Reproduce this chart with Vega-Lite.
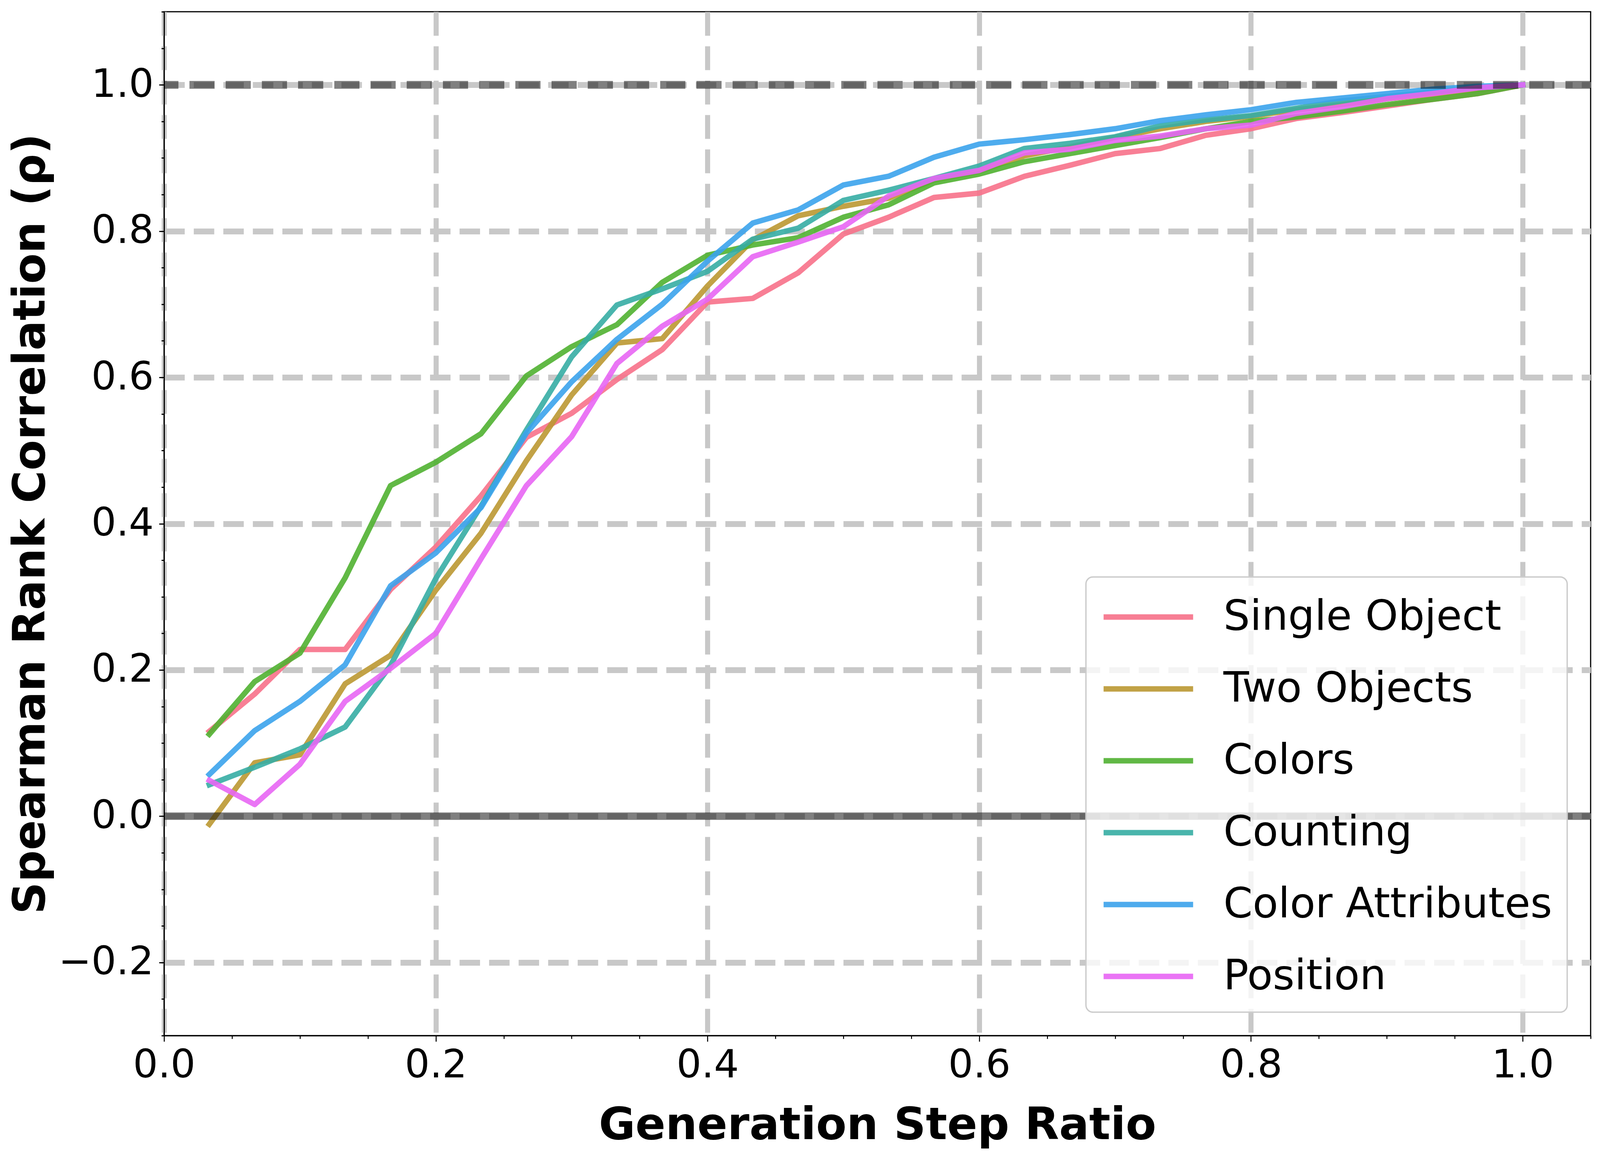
{
  "$schema": "https://vega.github.io/schema/vega-lite/v6.json",
  "background": "white",
  "autosize": {"type": "none"},
  "padding": {"left": 420, "top": 30, "right": 24, "bottom": 321},
  "width": 3652,
  "height": 2621,
  "config": {
    "view": {"stroke": "black", "strokeWidth": 3},
    "font": "DejaVu Sans",
    "legend": {"strokeWidth": 3.5}
  },
  "datasets": {
    "curves": [
      {"task":"Single Object","step":0.0333,"rho":0.116},{"task":"Single Object","step":0.0667,"rho":0.167},{"task":"Single Object","step":0.1,"rho":0.228},{"task":"Single Object","step":0.1333,"rho":0.228},{"task":"Single Object","step":0.1667,"rho":0.31},{"task":"Single Object","step":0.2,"rho":0.368},{"task":"Single Object","step":0.2333,"rho":0.438},{"task":"Single Object","step":0.2667,"rho":0.518},{"task":"Single Object","step":0.3,"rho":0.551},{"task":"Single Object","step":0.3333,"rho":0.597},{"task":"Single Object","step":0.3667,"rho":0.638},{"task":"Single Object","step":0.4,"rho":0.703},{"task":"Single Object","step":0.4333,"rho":0.708},{"task":"Single Object","step":0.4667,"rho":0.743},{"task":"Single Object","step":0.5,"rho":0.796},{"task":"Single Object","step":0.5333,"rho":0.819},{"task":"Single Object","step":0.5667,"rho":0.846},{"task":"Single Object","step":0.6,"rho":0.852},{"task":"Single Object","step":0.6333,"rho":0.875},{"task":"Single Object","step":0.6667,"rho":0.89},{"task":"Single Object","step":0.7,"rho":0.906},{"task":"Single Object","step":0.7333,"rho":0.913},{"task":"Single Object","step":0.7667,"rho":0.931},{"task":"Single Object","step":0.8,"rho":0.94},{"task":"Single Object","step":0.8333,"rho":0.954},{"task":"Single Object","step":0.8667,"rho":0.962},{"task":"Single Object","step":0.9,"rho":0.971},{"task":"Single Object","step":0.9333,"rho":0.98},{"task":"Single Object","step":0.9667,"rho":0.988},{"task":"Single Object","step":1.0,"rho":1.0},
      {"task":"Two Objects","step":0.0333,"rho":-0.011},{"task":"Two Objects","step":0.0667,"rho":0.073},{"task":"Two Objects","step":0.1,"rho":0.084},{"task":"Two Objects","step":0.1333,"rho":0.181},{"task":"Two Objects","step":0.1667,"rho":0.22},{"task":"Two Objects","step":0.2,"rho":0.309},{"task":"Two Objects","step":0.2333,"rho":0.387},{"task":"Two Objects","step":0.2667,"rho":0.486},{"task":"Two Objects","step":0.3,"rho":0.576},{"task":"Two Objects","step":0.3333,"rho":0.647},{"task":"Two Objects","step":0.3667,"rho":0.653},{"task":"Two Objects","step":0.4,"rho":0.725},{"task":"Two Objects","step":0.4333,"rho":0.788},{"task":"Two Objects","step":0.4667,"rho":0.821},{"task":"Two Objects","step":0.5,"rho":0.834},{"task":"Two Objects","step":0.5333,"rho":0.845},{"task":"Two Objects","step":0.5667,"rho":0.87},{"task":"Two Objects","step":0.6,"rho":0.882},{"task":"Two Objects","step":0.6333,"rho":0.903},{"task":"Two Objects","step":0.6667,"rho":0.915},{"task":"Two Objects","step":0.7,"rho":0.928},{"task":"Two Objects","step":0.7333,"rho":0.94},{"task":"Two Objects","step":0.7667,"rho":0.95},{"task":"Two Objects","step":0.8,"rho":0.957},{"task":"Two Objects","step":0.8333,"rho":0.966},{"task":"Two Objects","step":0.8667,"rho":0.973},{"task":"Two Objects","step":0.9,"rho":0.981},{"task":"Two Objects","step":0.9333,"rho":0.987},{"task":"Two Objects","step":0.9667,"rho":0.994},{"task":"Two Objects","step":1.0,"rho":1.0},
      {"task":"Colors","step":0.0333,"rho":0.112},{"task":"Colors","step":0.0667,"rho":0.184},{"task":"Colors","step":0.1,"rho":0.223},{"task":"Colors","step":0.1333,"rho":0.326},{"task":"Colors","step":0.1667,"rho":0.452},{"task":"Colors","step":0.2,"rho":0.484},{"task":"Colors","step":0.2333,"rho":0.523},{"task":"Colors","step":0.2667,"rho":0.602},{"task":"Colors","step":0.3,"rho":0.642},{"task":"Colors","step":0.3333,"rho":0.672},{"task":"Colors","step":0.3667,"rho":0.73},{"task":"Colors","step":0.4,"rho":0.767},{"task":"Colors","step":0.4333,"rho":0.781},{"task":"Colors","step":0.4667,"rho":0.791},{"task":"Colors","step":0.5,"rho":0.819},{"task":"Colors","step":0.5333,"rho":0.836},{"task":"Colors","step":0.5667,"rho":0.866},{"task":"Colors","step":0.6,"rho":0.878},{"task":"Colors","step":0.6333,"rho":0.895},{"task":"Colors","step":0.6667,"rho":0.906},{"task":"Colors","step":0.7,"rho":0.917},{"task":"Colors","step":0.7333,"rho":0.928},{"task":"Colors","step":0.7667,"rho":0.94},{"task":"Colors","step":0.8,"rho":0.95},{"task":"Colors","step":0.8333,"rho":0.956},{"task":"Colors","step":0.8667,"rho":0.964},{"task":"Colors","step":0.9,"rho":0.973},{"task":"Colors","step":0.9333,"rho":0.98},{"task":"Colors","step":0.9667,"rho":0.988},{"task":"Colors","step":1.0,"rho":1.0},
      {"task":"Counting","step":0.0333,"rho":0.043},{"task":"Counting","step":0.0667,"rho":0.067},{"task":"Counting","step":0.1,"rho":0.092},{"task":"Counting","step":0.1333,"rho":0.122},{"task":"Counting","step":0.1667,"rho":0.206},{"task":"Counting","step":0.2,"rho":0.325},{"task":"Counting","step":0.2333,"rho":0.424},{"task":"Counting","step":0.2667,"rho":0.528},{"task":"Counting","step":0.3,"rho":0.628},{"task":"Counting","step":0.3333,"rho":0.699},{"task":"Counting","step":0.3667,"rho":0.721},{"task":"Counting","step":0.4,"rho":0.745},{"task":"Counting","step":0.4333,"rho":0.789},{"task":"Counting","step":0.4667,"rho":0.804},{"task":"Counting","step":0.5,"rho":0.842},{"task":"Counting","step":0.5333,"rho":0.856},{"task":"Counting","step":0.5667,"rho":0.872},{"task":"Counting","step":0.6,"rho":0.889},{"task":"Counting","step":0.6333,"rho":0.913},{"task":"Counting","step":0.6667,"rho":0.92},{"task":"Counting","step":0.7,"rho":0.929},{"task":"Counting","step":0.7333,"rho":0.944},{"task":"Counting","step":0.7667,"rho":0.952},{"task":"Counting","step":0.8,"rho":0.958},{"task":"Counting","step":0.8333,"rho":0.968},{"task":"Counting","step":0.8667,"rho":0.978},{"task":"Counting","step":0.9,"rho":0.984},{"task":"Counting","step":0.9333,"rho":0.99},{"task":"Counting","step":0.9667,"rho":0.996},{"task":"Counting","step":1.0,"rho":1.0},
      {"task":"Color Attributes","step":0.0333,"rho":0.057},{"task":"Color Attributes","step":0.0667,"rho":0.117},{"task":"Color Attributes","step":0.1,"rho":0.157},{"task":"Color Attributes","step":0.1333,"rho":0.207},{"task":"Color Attributes","step":0.1667,"rho":0.315},{"task":"Color Attributes","step":0.2,"rho":0.36},{"task":"Color Attributes","step":0.2333,"rho":0.422},{"task":"Color Attributes","step":0.2667,"rho":0.524},{"task":"Color Attributes","step":0.3,"rho":0.594},{"task":"Color Attributes","step":0.3333,"rho":0.652},{"task":"Color Attributes","step":0.3667,"rho":0.7},{"task":"Color Attributes","step":0.4,"rho":0.759},{"task":"Color Attributes","step":0.4333,"rho":0.811},{"task":"Color Attributes","step":0.4667,"rho":0.829},{"task":"Color Attributes","step":0.5,"rho":0.863},{"task":"Color Attributes","step":0.5333,"rho":0.875},{"task":"Color Attributes","step":0.5667,"rho":0.901},{"task":"Color Attributes","step":0.6,"rho":0.919},{"task":"Color Attributes","step":0.6333,"rho":0.925},{"task":"Color Attributes","step":0.6667,"rho":0.932},{"task":"Color Attributes","step":0.7,"rho":0.94},{"task":"Color Attributes","step":0.7333,"rho":0.951},{"task":"Color Attributes","step":0.7667,"rho":0.959},{"task":"Color Attributes","step":0.8,"rho":0.966},{"task":"Color Attributes","step":0.8333,"rho":0.976},{"task":"Color Attributes","step":0.8667,"rho":0.982},{"task":"Color Attributes","step":0.9,"rho":0.988},{"task":"Color Attributes","step":0.9333,"rho":0.994},{"task":"Color Attributes","step":0.9667,"rho":0.998},{"task":"Color Attributes","step":1.0,"rho":1.0},
      {"task":"Position","step":0.0333,"rho":0.049},{"task":"Position","step":0.0667,"rho":0.016},{"task":"Position","step":0.1,"rho":0.071},{"task":"Position","step":0.1333,"rho":0.157},{"task":"Position","step":0.1667,"rho":0.202},{"task":"Position","step":0.2,"rho":0.25},{"task":"Position","step":0.2333,"rho":0.352},{"task":"Position","step":0.2667,"rho":0.452},{"task":"Position","step":0.3,"rho":0.519},{"task":"Position","step":0.3333,"rho":0.619},{"task":"Position","step":0.3667,"rho":0.67},{"task":"Position","step":0.4,"rho":0.707},{"task":"Position","step":0.4333,"rho":0.765},{"task":"Position","step":0.4667,"rho":0.785},{"task":"Position","step":0.5,"rho":0.806},{"task":"Position","step":0.5333,"rho":0.848},{"task":"Position","step":0.5667,"rho":0.872},{"task":"Position","step":0.6,"rho":0.883},{"task":"Position","step":0.6333,"rho":0.907},{"task":"Position","step":0.6667,"rho":0.912},{"task":"Position","step":0.7,"rho":0.924},{"task":"Position","step":0.7333,"rho":0.93},{"task":"Position","step":0.7667,"rho":0.94},{"task":"Position","step":0.8,"rho":0.945},{"task":"Position","step":0.8333,"rho":0.961},{"task":"Position","step":0.8667,"rho":0.97},{"task":"Position","step":0.9,"rho":0.981},{"task":"Position","step":0.9333,"rho":0.988},{"task":"Position","step":0.9667,"rho":0.996},{"task":"Position","step":1.0,"rho":1.0}
    ]
  },
  "resolve": {"axis": {"x": "independent", "y": "independent"}},
  "layer": [
    {
      "data": {"name": "curves"},
      "mark": {"type": "line", "strokeWidth": 14, "opacity": 0.9, "strokeCap": "square", "strokeJoin": "round"},
      "encoding": {
        "x": {
          "field": "step", "type": "quantitative",
          "scale": {"domain": [0, 1.05], "nice": false, "zero": false},
          "axis": {
            "orient": "bottom",
            "values": [0, 0.2, 0.4, 0.6, 0.8, 1.0], "format": ".1f",
            "title": "Generation Step Ratio",
            "titleFont": "DejaVu Sans", "titleFontSize": 114, "titleFontWeight": "bold", "titleColor": "black",
            "titleBaseline": "alphabetic", "titleX": 1826, "titleY": 264,
            "labelFont": "DejaVu Sans", "labelFontSize": 100.5, "labelColor": "black", "labelPadding": 12, "labelLimit": 1000,
            "labelFlush": false, "labelOverlap": false,
            "tickSize": 15, "tickWidth": 2.6, "tickColor": "black",
            "domainColor": "black", "domainWidth": 3,
            "grid": true, "gridColor": "#c8c8c8", "gridWidth": 13, "gridDash": [61, 27]
          }
        },
        "y": {
          "field": "rho", "type": "quantitative",
          "scale": {"domain": [-0.3, 1.1], "nice": false, "zero": false},
          "axis": {
            "orient": "left",
            "values": [-0.2, 0, 0.2, 0.4, 0.6, 0.8, 1.0], "format": ".1f",
            "title": "Spearman Rank Correlation (ρ)",
            "titleFont": "DejaVu Sans", "titleFontSize": 114, "titleFontWeight": "bold", "titleColor": "black",
            "titleAngle": 270, "titleBaseline": "alphabetic", "titleAlign": "center", "titleX": -307, "titleY": 1310.5,
            "labelFont": "DejaVu Sans", "labelFontSize": 100.5, "labelColor": "black", "labelPadding": 14, "labelLimit": 1000,
            "labelFlush": false, "labelOverlap": false,
            "tickSize": 12.9, "tickWidth": 3, "tickColor": "black",
            "domainColor": "black", "domainWidth": 3,
            "grid": true, "gridColor": "#c8c8c8", "gridWidth": 15, "gridDash": [52.4, 23.2]
          }
        },
        "color": {
          "field": "task", "type": "nominal",
          "scale": {
            "domain": ["Single Object", "Two Objects", "Colors", "Counting", "Color Attributes", "Position"],
            "range": ["#f77189", "#bb9832", "#50b131", "#36ada4", "#3ba3ec", "#e866f4"]
          },
          "legend": {
            "orient": "bottom-right", "offset": 60, "title": null,
            "symbolType": "M-1,0H3", "symbolSize": 13133, "symbolStrokeWidth": 14, "symbolOpacity": 0.9,
            "labelFont": "DejaVu Sans", "labelFontSize": 107, "labelColor": "black", "labelLimit": 3000,
            "labelOffset": 185, "rowPadding": 66, "padding": 38,
            "fillColor": "rgba(255,255,255,0.8)", "strokeColor": "#cccccc", "cornerRadius": 18
          }
        }
      }
    },
    {
      "data": {"values": [{"ref": 1.0}]},
      "mark": {"type": "rule", "color": "black", "opacity": 0.5, "strokeWidth": 20, "strokeDash": [64.4, 28.3]},
      "encoding": {
        "y": {"field": "ref", "type": "quantitative", "scale": {"domain": [-0.3, 1.1], "nice": false, "zero": false}, "axis": null}
      }
    },
    {
      "data": {"values": [{"ref": 0.0, "from": 0, "to": 1.05}]},
      "mark": {"type": "rule", "color": "black", "opacity": 0.5, "strokeWidth": 19},
      "encoding": {
        "x": {
          "field": "from", "type": "quantitative",
          "scale": {"domain": [0, 1.05], "nice": false, "zero": false},
          "axis": {
            "orient": "bottom", "title": null, "labels": false, "grid": false, "domain": false,
            "values": [0.05, 0.1, 0.15, 0.25, 0.3, 0.35, 0.45, 0.5, 0.55, 0.65, 0.7, 0.75, 0.85, 0.9, 0.95, 1.05],
            "tickSize": 8, "tickWidth": 2.6, "tickColor": "black"
          }
        },
        "x2": {"field": "to"},
        "y": {
          "field": "ref", "type": "quantitative",
          "scale": {"domain": [-0.3, 1.1], "nice": false, "zero": false},
          "axis": {
            "orient": "left", "title": null, "labels": false, "grid": false, "domain": false,
            "values": [-0.3, -0.25, -0.15, -0.1, -0.05, 0.05, 0.1, 0.15, 0.25, 0.3, 0.35, 0.45, 0.5, 0.55, 0.65, 0.7, 0.75, 0.85, 0.9, 0.95, 1.05, 1.1],
            "tickSize": 6.9, "tickWidth": 3, "tickColor": "black"
          }
        }
      }
    }
  ]
}
